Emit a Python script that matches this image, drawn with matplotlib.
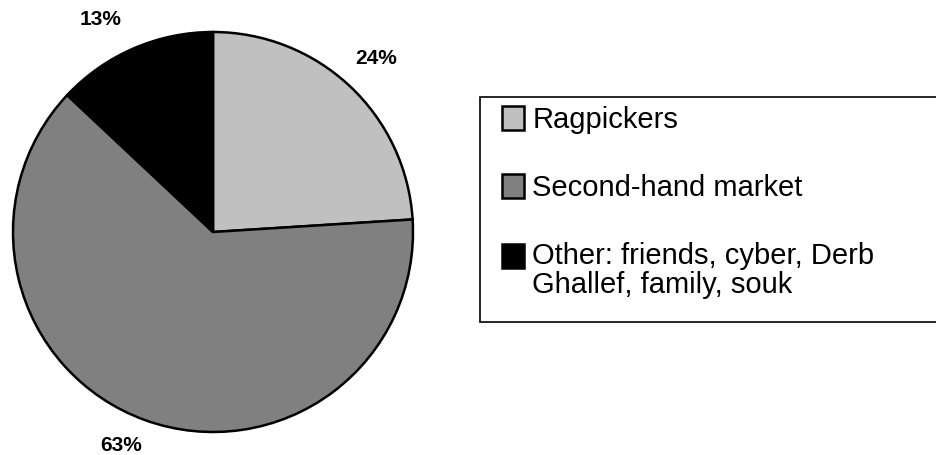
import matplotlib.pyplot as plt
from matplotlib.patches import Patch, Rectangle
from matplotlib.legend_handler import HandlerPatch
import numpy as np

labels = ["Ragpickers", "Second-hand market", "Other: friends, cyber, Derb\nGhallef, family, souk"]
shares = [24, 63, 13]
colors = ["#C0C0C0", "#808080", "#000000"]

plt.rcParams["font.family"] = ["Liberation Sans", "DejaVu Sans"]

W, H = 936, 455
fig = plt.figure(figsize=(W / 100, H / 100), dpi=100)

# pie axes: 400x400 px centred at (213, 232)
ax = fig.add_axes([13 / W, (H - 432) / H, 400 / W, 400 / H])
wedges, texts, autotexts = ax.pie(
    shares, colors=colors, startangle=90, counterclock=False,
    autopct=lambda p: "%.0f%%" % p, pctdistance=1.19,
    wedgeprops=dict(edgecolor="black", linewidth=1.8),
    textprops=dict(fontsize=15, fontweight="bold", color="black"))

# nudge labels like the original (radius, angle shift in degrees)
label_r = [1.19, 1.16, 1.2]
label_shift = [0, -3.5, 4.5]
for w, t, r, s in zip(wedges, autotexts, label_r, label_shift):
    a = np.deg2rad((w.theta1 + w.theta2) / 2 + s)
    t.set_position((r * np.cos(a), r * np.sin(a)))

ax.set_xlim(-1, 1)
ax.set_ylim(-1, 1)
ax.set_aspect("equal")
ax.axis("off")

# legend box (right side runs off the figure)
fig.patches.append(Rectangle((480 / W, 1 - 322 / H), 460 / W, 225 / H,
                             transform=fig.transFigure, facecolor="white",
                             edgecolor="black", linewidth=1.2, zorder=0))


def first_line_patch(legend, orig_handle, xdescent, ydescent, width, height, fontsize):
    # put the square next to the first line of a wrapped label
    shift = getattr(orig_handle, "_shift", 0)
    return Rectangle((-xdescent, -ydescent + shift), width, height)


handles = [Patch(facecolor=c, edgecolor="black", linewidth=1.8) for c in colors]
handles[2]._shift = 11
leg = fig.legend(handles, labels, loc="upper left",
                 bbox_to_anchor=(502 / W, 1 - 106 / H),
                 frameon=False, fontsize=21, borderpad=0, borderaxespad=0,
                 handlelength=0.74, handleheight=0.9, handletextpad=0.3,
                 labelspacing=1.36,
                 handler_map={Patch: HandlerPatch(patch_func=first_line_patch)})
for t in leg.get_texts():
    t.set_linespacing(1.06)

fig.savefig("out.png", dpi=100)
